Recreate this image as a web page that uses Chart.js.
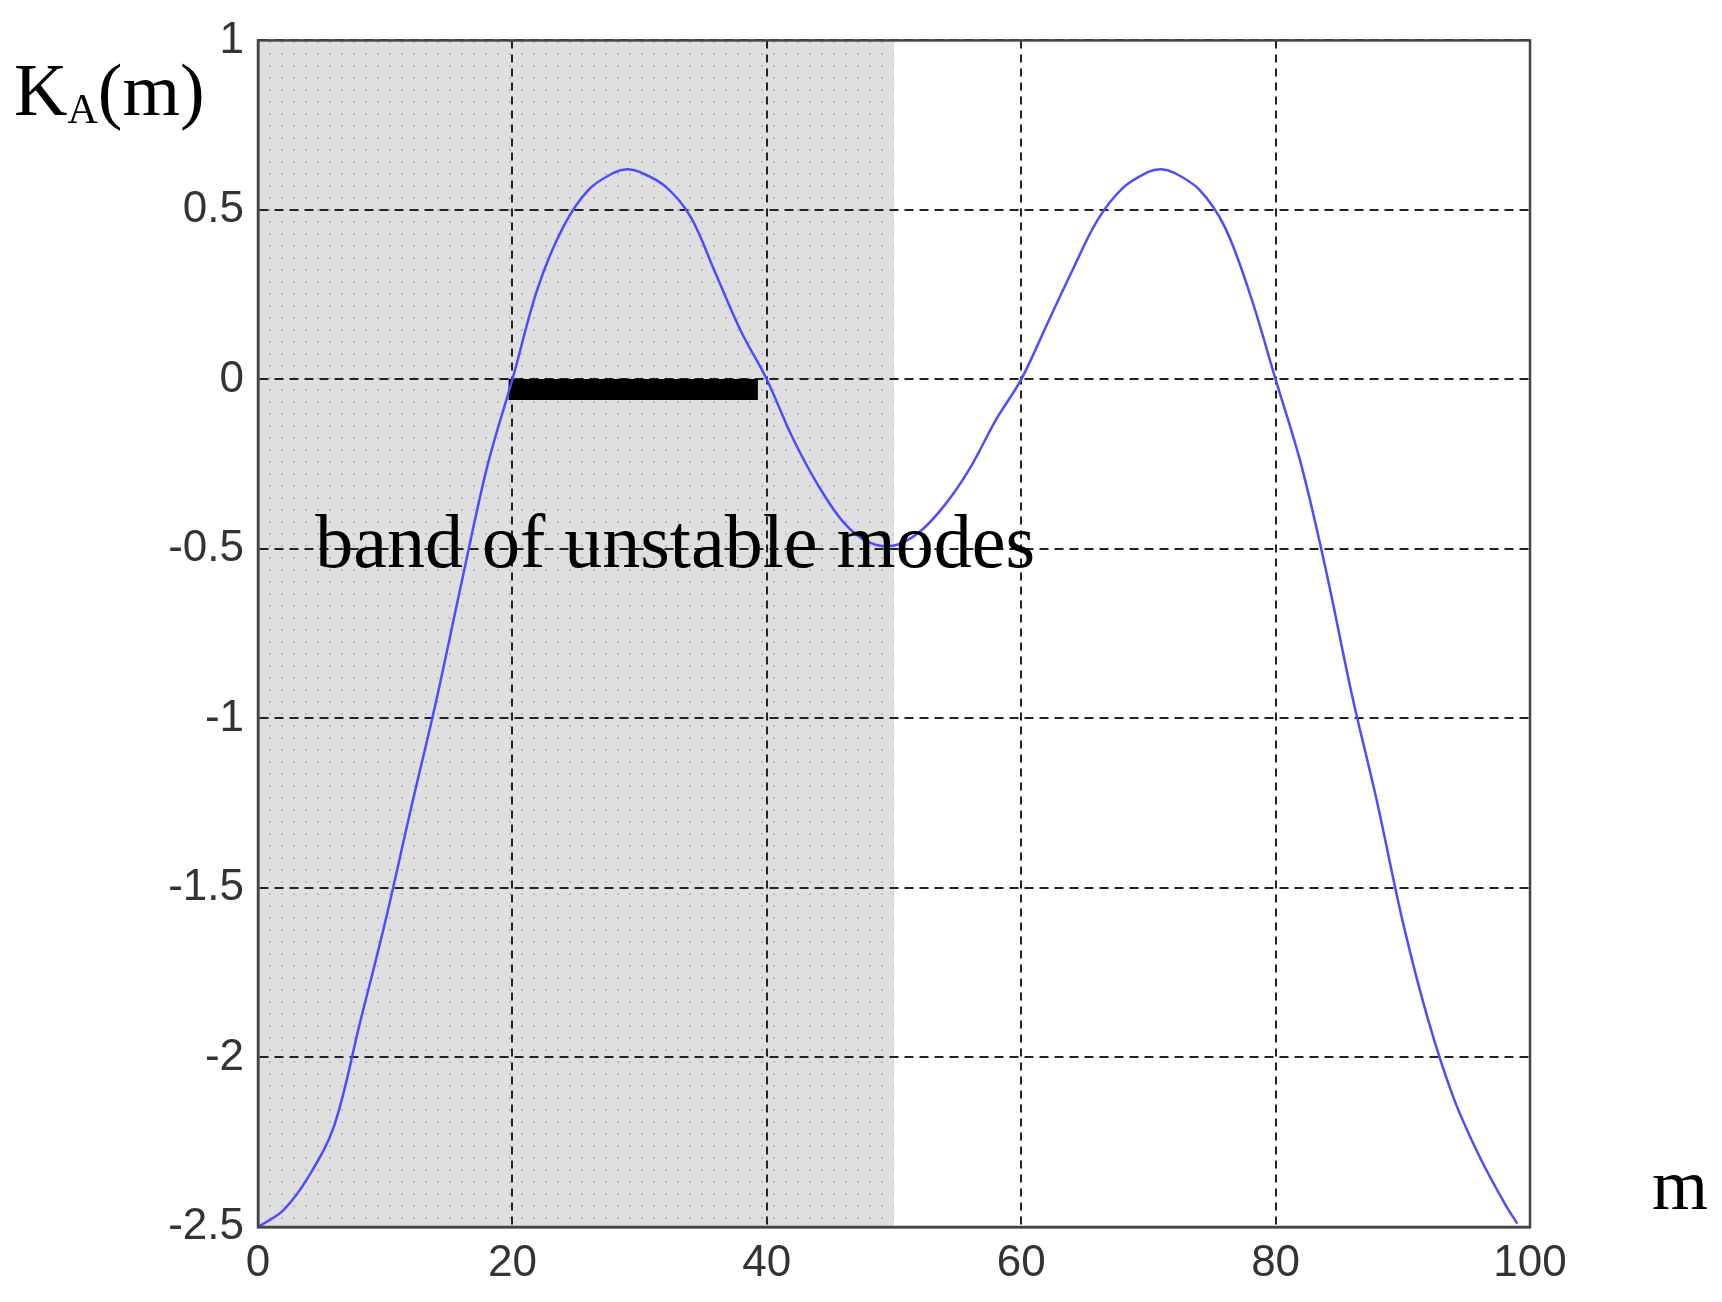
<!DOCTYPE html>
<html>
<head>
<meta charset="utf-8">
<script src="https://cdn.jsdelivr.net/npm/chart.js@4/dist/chart.umd.min.js"></script>
<style>
  html, body { margin: 0; padding: 0; background: #fff; }
  #wrap { width: 1722px; height: 1302px; position: relative; }
</style>
</head>
<body>
<div id="wrap"><canvas id="kaChart"></canvas></div>
<script>
// mode number m and the read-off K_A(m) values
const modes = [0, 2, 4, 6, 8, 10, 12, 14, 16, 18, 20, 22, 24, 26, 28, 29, 30, 32, 34, 36, 38, 40,
  42, 44, 46, 48, 50, 52, 54, 56, 58, 60, 62, 64, 66, 68, 70, 71, 72, 74, 76, 78, 80,
  82, 84, 86, 88, 90, 92, 94, 96, 98, 99];
const kaValues = [-2.5, -2.45, -2.35, -2.2, -1.9, -1.6, -1.27, -0.95, -0.6, -0.26, 0.0,
  0.27, 0.45, 0.56, 0.61, 0.62, 0.612, 0.57, 0.48, 0.31, 0.14, 0.0,
  -0.17, -0.31, -0.42, -0.48, -0.49, -0.45, -0.37, -0.26, -0.12, 0.0,
  0.16, 0.32, 0.47, 0.565, 0.612, 0.62, 0.61, 0.56, 0.45, 0.25, 0.0,
  -0.25, -0.57, -0.93, -1.25, -1.6, -1.89, -2.12, -2.29, -2.43, -2.49];

// band of unstable modes (black bar) and the shaded range
const bandModes = [19.7, 39.3];
const bandLevel = [-0.03, -0.03];
const shadedRange = [0, 50];

const xTickLabels = ["0", "20", "40", "60", "80", "100"];
const yTickLabels = ["-2.5", "-2", "-1.5", "-1", "-0.5", "0", "0.5", "1"];

const tickFont = { family: "'Liberation Sans', Arial, sans-serif", size: 44 };
const serif = "'Liberation Serif', 'Times New Roman', serif";

/**
 * Builds the light dotted fill used for the shaded half
 */
const makeDotPattern = (ctx) => {
  const tile = document.createElement("canvas");
  tile.width = 12;
  tile.height = 12;
  const t = tile.getContext("2d");
  t.fillStyle = "#dfdfdf";
  t.fillRect(0, 0, 12, 12);
  t.fillStyle = "#bdbdbd";
  t.fillRect(5, 5, 2, 2);
  return ctx.createPattern(tile, "repeat");
};

const backgroundPlugin = {
  id: "background",
  beforeDraw: (chart) => {
    const { ctx, chartArea, scales } = chart;
    ctx.save();
    ctx.fillStyle = "#fff";
    ctx.fillRect(0, 0, chart.width, chart.height);
    const x0 = scales.x.getPixelForValue(shadedRange[0]);
    const x1 = scales.x.getPixelForValue(shadedRange[1]);
    ctx.fillStyle = makeDotPattern(ctx);
    ctx.fillRect(x0, chartArea.top, x1 - x0, chartArea.bottom - chartArea.top);
    ctx.restore();
  },
};

const labelsPlugin = {
  id: "labels",
  afterDraw: (chart) => {
    const { ctx, chartArea, scales } = chart;
    ctx.save();
    // frame round the plot
    ctx.strokeStyle = "#444";
    ctx.lineWidth = 2.5;
    ctx.strokeRect(chartArea.left, chartArea.top,
      chartArea.right - chartArea.left, chartArea.bottom - chartArea.top);

    ctx.fillStyle = "#000";
    ctx.textBaseline = "alphabetic";
    ctx.textAlign = "left";
    // y axis title K_A(m)
    ctx.font = `74px ${serif}`;
    ctx.fillText("K", 14, 115);
    let x = 14 + ctx.measureText("K").width;
    ctx.font = `42px ${serif}`;
    ctx.fillText("A", x, 123);
    x += ctx.measureText("A").width;
    ctx.font = `74px ${serif}`;
    ctx.fillText("(m)", x, 115);

    // x axis title
    ctx.font = `72px ${serif}`;
    ctx.fillText("m", 1652, 1209);

    // annotation
    ctx.font = `76px ${serif}`;
    ctx.fillText("band of unstable modes", scales.x.getPixelForValue(4.5), 567);
    ctx.restore();
  },
};

const ctx = document.getElementById("kaChart").getContext("2d");

new Chart(ctx, {
  type: "line",
  data: {
    datasets: [
      {
        data: modes.map((m, i) => ({ x: m, y: kaValues[i] })),
        borderColor: "#4d4dff",
        borderWidth: 2.5,
        pointRadius: 0,
        tension: 0.35,
      },
      {
        data: bandModes.map((m, i) => ({ x: m, y: bandLevel[i] })),
        borderColor: "#000",
        borderWidth: 21,
        borderCapStyle: "butt",
        pointRadius: 0,
      },
    ],
  },
  options: {
    responsive: true,
    maintainAspectRatio: false,
    animation: false,
    layout: { padding: { left: 0, top: 34, right: 192, bottom: 0 } },
    scales: {
      x: {
        type: "linear",
        min: 0,
        max: 100,
        afterFit: (scale) => { scale.height = 75; },
        afterBuildTicks: (scale) => {
          scale.ticks = xTickLabels.map((l) => ({ value: Number(l) }));
        },
        ticks: {
          font: tickFont,
          color: "#333",
          padding: 10,
          maxRotation: 0,
          callback: (v) => xTickLabels.find((l) => Number(l) === v) ?? "",
        },
        grid: { color: "#222", lineWidth: 2, drawTicks: false },
        border: { color: "#444", width: 2.5, dash: [8, 6] },
      },
      y: {
        type: "linear",
        min: -2.5,
        max: 1,
        afterFit: (scale) => { scale.width = 258; },
        afterBuildTicks: (scale) => {
          scale.ticks = yTickLabels.map((l) => ({ value: Number(l) }));
        },
        ticks: {
          font: tickFont,
          color: "#333",
          padding: 14,
          callback: (v) => yTickLabels.find((l) => Number(l) === v) ?? "",
        },
        grid: { color: "#222", lineWidth: 2, drawTicks: false },
        border: { color: "#444", width: 2.5, dash: [9, 6] },
      },
    },
    plugins: {
      legend: { display: false },
      tooltip: { enabled: false },
    },
  },
  plugins: [backgroundPlugin, labelsPlugin],
});
</script>
</body>
</html>
